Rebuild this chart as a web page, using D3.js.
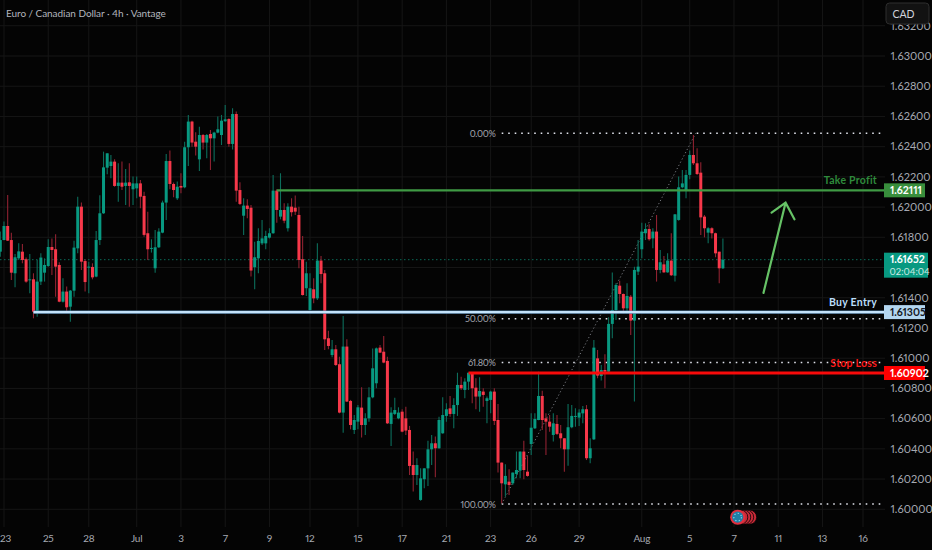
<!DOCTYPE html>
<html><head><meta charset="utf-8">
<script src="https://cdn.jsdelivr.net/npm/d3@7/dist/d3.min.js"></script>
<style>html,body{margin:0;padding:0;background:#050505;overflow:hidden}svg{display:block}text{font-variant-numeric:proportional-nums;font-feature-settings:"pnum" 1}</style>
</head><body><svg id="c" width="932" height="550"></svg>
<script>
const opens=[1.61705,1.61782,1.61875,1.61782,1.61562,1.61661,1.61705,1.61655,1.61518,1.61522,
1.61308,1.61507,1.61566,1.61610,1.61736,1.61721,1.61617,1.61374,1.61441,1.61341,
1.61447,1.61727,1.62003,1.61643,1.61599,1.61604,1.61540,1.61782,1.61959,1.62261,
1.62272,1.62301,1.62140,1.62162,1.62140,1.62164,1.62118,1.62124,1.62157,1.62074,
1.61827,1.61725,1.61595,1.61734,1.61831,1.62030,1.62305,1.62153,1.62058,1.62140,
1.62131,1.62396,1.62566,1.62433,1.62316,1.62477,1.62427,1.62484,1.62455,1.62493,
1.62477,1.62568,1.62583,1.62418,1.62616,1.62113,1.61943,1.62010,1.61996,1.61602,
1.61661,1.61760,1.61760,1.61798,1.61827,1.62109,1.61937,1.61981,1.61860,1.62003,
1.61996,1.61948,1.61655,1.61463,1.61319,1.61456,1.61396,1.61646,1.61562,1.61132,
1.61021,1.61059,1.60960,1.60640,1.61077,1.60717,1.60525,1.60580,1.60673,1.60558,
1.60602,1.60741,1.60834,1.61070,1.61043,1.60982,1.60565,1.60631,1.60602,1.60646,
1.60602,1.60525,1.60293,1.60227,1.60062,1.60199,1.60271,1.60397,1.60437,1.60404,
1.60503,1.60618,1.60668,1.60631,1.60690,1.60823,1.60790,1.60845,1.60900,1.60805,
1.60746,1.60779,1.60717,1.60724,1.60779,1.60591,1.60309,1.60165,1.60183,1.60172,
1.60234,1.60256,1.60382,1.60249,1.60432,1.60536,1.60591,1.60750,1.60602,1.60580,
1.60492,1.60565,1.60503,1.60470,1.60397,1.60543,1.60613,1.60607,1.60635,1.60662,
1.60338,1.60463,1.60999,1.60882,1.60922,1.60911,1.61227,1.61319,1.61480,1.61425,
1.61330,1.61407,1.61249,1.61573,1.61721,1.61827,1.61855,1.61793,1.61838,1.61584,
1.61621,1.61568,1.61646,1.61546,1.61915,1.62131,1.62113,1.62213,1.62345,1.62290,
1.62228,1.61937,1.61831,1.61860,1.61827,1.61705,1.61595];
const highs=[1.61838,1.61904,1.62080,1.61831,1.61690,1.61760,1.61756,1.61666,1.61690,1.61562,
1.61650,1.61694,1.61661,1.61787,1.61793,1.61820,1.61635,1.61529,1.61474,1.61452,
1.61778,1.62069,1.62030,1.61655,1.61639,1.61628,1.61842,1.62078,1.62367,1.62356,
1.62345,1.62316,1.62290,1.62301,1.62252,1.62290,1.62202,1.62202,1.62180,1.62102,
1.61970,1.61787,1.61849,1.61860,1.62043,1.62352,1.62374,1.62162,1.62169,1.62224,
1.62433,1.62610,1.62572,1.62495,1.62532,1.62484,1.62484,1.62510,1.62499,1.62599,
1.62610,1.62676,1.62588,1.62654,1.62632,1.62164,1.62058,1.62052,1.62014,1.61771,
1.61860,1.61915,1.61844,1.61860,1.62213,1.62118,1.62224,1.62025,1.62025,1.62058,
1.62076,1.62003,1.61809,1.61639,1.61562,1.61529,1.61760,1.61677,1.61584,1.61182,
1.61121,1.61088,1.61010,1.61279,1.61125,1.60724,1.60624,1.60690,1.60807,1.60635,
1.60807,1.61065,1.61070,1.61088,1.61147,1.61010,1.60675,1.60739,1.60675,1.60662,
1.60679,1.60552,1.60382,1.60338,1.60271,1.60271,1.60454,1.60492,1.60481,1.60613,
1.60741,1.60702,1.60750,1.60735,1.60904,1.60878,1.60867,1.60904,1.60900,1.60867,
1.60874,1.60801,1.60746,1.60785,1.60801,1.60697,1.60309,1.60298,1.60265,1.60243,
1.60382,1.60382,1.60454,1.60353,1.60635,1.60635,1.60911,1.60785,1.60635,1.60624,
1.60635,1.60624,1.60558,1.60470,1.60697,1.60690,1.60668,1.60662,1.60684,1.60690,
1.60470,1.61121,1.61054,1.60955,1.61026,1.61271,1.61568,1.61496,1.61513,1.61429,
1.61496,1.61418,1.61606,1.61782,1.61897,1.61893,1.61886,1.61860,1.61948,1.61716,
1.61677,1.61694,1.61827,1.61955,1.62202,1.62246,1.62246,1.62374,1.62477,1.62389,
1.62296,1.61948,1.61866,1.61866,1.61831,1.61705,1.61793];
const lows=[1.61672,1.61780,1.61775,1.61518,1.61469,1.61650,1.61628,1.61500,1.61430,1.61264,
1.61275,1.61485,1.61507,1.61606,1.61551,1.61407,1.61370,1.61368,1.61308,1.61242,
1.61407,1.61694,1.61584,1.61441,1.61430,1.61522,1.61535,1.61749,1.61955,1.62217,
1.62191,1.62135,1.62036,1.62113,1.62014,1.62003,1.62014,1.62058,1.61992,1.61804,
1.61650,1.61699,1.61566,1.61730,1.61827,1.61915,1.62118,1.62065,1.62047,1.62091,
1.62124,1.62272,1.62400,1.62341,1.62239,1.62382,1.62323,1.62246,1.62301,1.62488,
1.62411,1.62565,1.62400,1.62382,1.62036,1.62014,1.61816,1.61926,1.61540,1.61456,
1.61562,1.61749,1.61721,1.61793,1.61823,1.61897,1.61919,1.61893,1.61838,1.61937,
1.61948,1.61595,1.61415,1.61412,1.61315,1.61363,1.61385,1.61496,1.61054,1.61059,
1.61006,1.60949,1.60635,1.60507,1.60710,1.60529,1.60499,1.60529,1.60476,1.60492,
1.60580,1.60735,1.60801,1.61035,1.60966,1.60565,1.60419,1.60624,1.60596,1.60510,
1.60492,1.60227,1.60117,1.60161,1.60057,1.60139,1.60154,1.60293,1.60212,1.60400,
1.60500,1.60580,1.60613,1.60536,1.60618,1.60790,1.60735,1.60790,1.60702,1.60662,
1.60646,1.60679,1.60569,1.60635,1.60558,1.60243,1.60040,1.60084,1.60095,1.60161,
1.60205,1.60205,1.60199,1.60216,1.60360,1.60532,1.60589,1.60525,1.60360,1.60514,
1.60448,1.60492,1.60404,1.60249,1.60289,1.60536,1.60547,1.60552,1.60569,1.60326,
1.60304,1.60459,1.60867,1.60852,1.60801,1.60908,1.61132,1.61253,1.61363,1.61297,
1.61297,1.61154,1.60713,1.61551,1.61661,1.61782,1.61778,1.61727,1.61507,1.61562,
1.61566,1.61566,1.61544,1.61507,1.61910,1.62124,1.62058,1.62184,1.62279,1.62213,
1.61816,1.61800,1.61760,1.61793,1.61668,1.61496,1.61590];
const closes=[1.61782,1.61875,1.61778,1.61566,1.61668,1.61707,1.61650,1.61507,1.61522,1.61308,
1.61507,1.61666,1.61617,1.61736,1.61716,1.61606,1.61374,1.61441,1.61337,1.61447,
1.61732,1.62003,1.61639,1.61504,1.61606,1.61535,1.61782,1.61959,1.62263,1.62356,
1.62301,1.62140,1.62162,1.62135,1.62162,1.62140,1.62157,1.62157,1.62069,1.61816,
1.61721,1.61730,1.61734,1.61838,1.62030,1.62305,1.62153,1.62113,1.62135,1.62129,
1.62396,1.62566,1.62427,1.62400,1.62477,1.62427,1.62477,1.62455,1.62493,1.62515,
1.62572,1.62581,1.62418,1.62616,1.62109,1.62021,1.62010,1.61988,1.61580,1.61668,
1.61776,1.61793,1.61809,1.61827,1.62109,1.61981,1.61981,1.61910,1.62003,1.61966,
1.61970,1.61650,1.61418,1.61562,1.61463,1.61396,1.61646,1.61557,1.61125,1.61081,
1.61059,1.60955,1.60640,1.61077,1.60713,1.60558,1.60591,1.60675,1.60558,1.60602,
1.60741,1.60933,1.61065,1.61037,1.60971,1.60569,1.60640,1.60657,1.60640,1.60514,
1.60521,1.60287,1.60227,1.60293,1.60205,1.60271,1.60397,1.60437,1.60404,1.60591,
1.60624,1.60662,1.60631,1.60690,1.60823,1.60801,1.60845,1.60904,1.60801,1.60746,
1.60783,1.60757,1.60735,1.60779,1.60585,1.60309,1.60172,1.60221,1.60161,1.60243,
1.60260,1.60382,1.60260,1.60221,1.60540,1.60598,1.60750,1.60591,1.60580,1.60547,
1.60569,1.60499,1.60470,1.60397,1.60543,1.60618,1.60618,1.60640,1.60662,1.60338,
1.60404,1.61070,1.60885,1.60922,1.60911,1.61227,1.61319,1.61485,1.61425,1.61330,
1.61412,1.61249,1.61584,1.61606,1.61838,1.61855,1.61787,1.61838,1.61584,1.61635,
1.61568,1.61646,1.61549,1.61952,1.62131,1.62157,1.62213,1.62345,1.62290,1.62219,
1.61932,1.61860,1.61860,1.61827,1.61694,1.61595,1.61652];

const priceTicks=[1.600,1.602,1.604,1.606,1.608,1.610,1.612,1.614,1.616,1.618,1.620,1.622,1.624,1.626,1.628,1.630,1.632];
const priceLabelTicks=[1.600,1.602,1.604,1.606,1.608,1.610,1.612,1.614,1.618,1.620,1.622,1.624,1.626,1.628,1.630,1.632];
const timeTickIdx=[1,13,24,37,49,61,73,84,97,109,121,133,144,157,174,187,199,211,223,234];
const timeTickLabels=["23","25","28","Jul","3","7","9","12","15","17","21","23","26","29","Aug","5","7","11","13","16"];
const levelNames=["Take Profit","Buy Entry","Stop Loss"];
const levelPrices=[1.62111,1.61305,1.60902];
const levelStartIdx=[75,9,127];
const lastPrice=1.61652;
const countdown="02:04:04";
const fibHigh=1.62488, fibLow=1.60035;
const fibRatios=[0,0.5,0.618,1];
const fibLabels=["0.00%","50.00%","61.80%","100.00%"];
const fibStartIdx=136, fibTrendEndIdx=188.6;
const arrowIdx=[207,213,209.2,215.4];
const arrowPrice=[1.61432,1.62029,1.61963,1.61919];
const eventIdx=[203.2,202.4,201.6,200.8];
const eventPrice=1.59948;
const title="Euro / Canadian Dollar · 4h · Vantage";

const W=932,H=550,axisX=885,plotBottom=527;
const FONT='Lato,sans-serif';
const svg=d3.select("#c").style("font-family",FONT);
const x=d3.scaleLinear().domain([0,234]).range([0.3,863]);
const y=d3.scaleLinear().domain([1.60,1.63]).range([509.3,56]);
svg.append("rect").attr("width",W).attr("height",H).attr("fill","#040404");

const grid=svg.append("g").attr("stroke","#161616").attr("stroke-width",1);
grid.selectAll(".gy").data(priceTicks).join("line").attr("x1",0).attr("x2",axisX).attr("y1",d=>y(d)).attr("y2",d=>y(d));
grid.selectAll(".gx").data(timeTickIdx).join("line").attr("x1",d=>x(d)).attr("x2",d=>x(d)).attr("y1",0).attr("y2",plotBottom);

// last price dotted
svg.append("line").attr("x1",0).attr("x2",axisX).attr("y1",y(lastPrice)).attr("y2",y(lastPrice))
 .attr("stroke","#0b6a58").attr("stroke-width",1).attr("stroke-dasharray","1.5 2.5");

// fib
const fibG=svg.append("g");
fibG.selectAll("line").data(fibRatios).join("line")
 .attr("x1",x(fibStartIdx)).attr("x2",axisX)
 .attr("y1",d=>y(fibHigh-(fibHigh-fibLow)*d)).attr("y2",d=>y(fibHigh-(fibHigh-fibLow)*d))
 .attr("stroke","#dfe2ea").attr("stroke-width",1.5).attr("stroke-dasharray","1.6 4.9");
fibG.selectAll("text").data(fibRatios).join("text")
 .attr("x",x(fibStartIdx)-6).attr("y",d=>y(fibHigh-(fibHigh-fibLow)*d)+3.5)
 .attr("text-anchor","end").attr("font-size",9.2).attr("letter-spacing",-0.3).attr("fill","#a3a6af").text((d,i)=>fibLabels[i]);
svg.append("line").attr("x1",x(fibStartIdx)).attr("y1",y(fibLow)).attr("x2",x(fibTrendEndIdx)).attr("y2",y(fibHigh))
 .attr("stroke","#77797f").attr("stroke-width",1).attr("stroke-dasharray","1.2 2.4");

// candles
const idx=d3.range(opens.length);
const up=i=>closes[i]>=opens[i];
const cg=svg.append("g");
cg.selectAll("line").data(idx).join("line")
 .attr("x1",i=>x(i)).attr("x2",i=>x(i)).attr("y1",i=>y(highs[i])).attr("y2",i=>y(lows[i]))
 .attr("stroke",i=>up(i)?"#0c6e5c":"#8f2231").attr("stroke-width",1.1);
cg.selectAll("rect").data(idx).join("rect")
 .attr("x",i=>x(i)-1.5).attr("width",3)
 .attr("y",i=>y(Math.max(opens[i],closes[i])))
 .attr("height",i=>Math.max(1,Math.abs(y(opens[i])-y(closes[i]))))
 .attr("fill",i=>up(i)?"#089981":"#f7384a");

// levels
const levelColors=["#3f9a44","#c4e3fb","#f80a0a"];
const levelWidths=[2.4,2.1,2.8];
const levelText=["#2f8a3c","#bbdefb","#ff1a1a"];
const lv=svg.append("g");
lv.append("line").attr("x1",x(levelStartIdx[1])).attr("x2",axisX).attr("y1",y(levelPrices[1])).attr("y2",y(levelPrices[1]))
 .attr("stroke","#4f7ea6").attr("stroke-width",3.2);
lv.selectAll(".lv").data(levelPrices).join("line").attr("class","lv")
 .attr("x1",(d,i)=>x(levelStartIdx[i])).attr("x2",axisX).attr("y1",d=>y(d)).attr("y2",d=>y(d))
 .attr("stroke",(d,i)=>levelColors[i]).attr("stroke-width",(d,i)=>levelWidths[i]);
lv.selectAll("text").data(levelPrices).join("text")
 .attr("x",877).attr("y",(d,i)=>y(d)-(i==2?6.5:6)).attr("text-anchor","end")
 .attr("font-size",10.5).attr("font-weight",700).attr("letter-spacing",0.25).attr("fill",(d,i)=>levelText[i]).text((d,i)=>levelNames[i]);

// arrow
const ap=i=>[x(arrowIdx[i]),y(arrowPrice[i])];
svg.append("path").attr("d",d3.line()([ap(0),ap(1)])+d3.line()([ap(2),ap(1),ap(3)]))
 .attr("fill","none").attr("stroke","#66c266").attr("stroke-width",2.2).attr("stroke-linecap","round");

// events
const ev=svg.append("g");
ev.selectAll("circle").data(eventIdx).join("circle").attr("cx",d=>x(d)).attr("cy",y(eventPrice)).attr("r",7.2)
 .attr("fill","#c92a38").attr("stroke","#040404").attr("stroke-width",0.8);
ev.append("circle").attr("cx",x(200)).attr("cy",y(eventPrice)).attr("r",7.5).attr("fill","#e2303f");
ev.append("circle").attr("cx",x(200)).attr("cy",y(eventPrice)).attr("r",5.6).attr("fill","#1e7fa6");
ev.append("circle").attr("cx",x(200)).attr("cy",y(eventPrice)).attr("r",3.8).attr("fill","none")
 .attr("stroke","#8fd0e8").attr("stroke-width",1.2).attr("stroke-dasharray","1.2 2.3");

// axis panel
svg.append("rect").attr("x",axisX).attr("y",0).attr("width",W-axisX).attr("height",H).attr("fill","#040404");
svg.append("g").selectAll("text").data(priceLabelTicks).join("text")
 .attr("x",890.5).attr("y",d=>y(d)+3.8).attr("font-size",11).attr("fill","#a6a9b2").text(d=>d.toFixed(5));
svg.append("g").selectAll("text").data(timeTickIdx).join("text")
 .attr("x",d=>Math.max(x(d),5.5)).attr("y",542).attr("text-anchor","middle").attr("font-size",10).attr("letter-spacing",-0.2).attr("fill","#a6a9b2")
 .text((d,i)=>timeTickLabels[i]);

// CAD button
svg.append("rect").attr("x",886).attr("y",3).attr("width",43).attr("height",21).attr("rx",3.5).attr("fill","#121212").attr("stroke","#2e2e2e");
svg.append("text").attr("x",892.5).attr("y",18).attr("font-size",10.5).attr("fill","#d1d4dc").text("CAD");

// price tags
const tagFill=["#388e3c","#b3d6f0","#ff0000"], tagTxt=["#fff","#131722","#fff"];
const tg=svg.append("g");
tg.selectAll("rect").data(levelPrices).join("rect")
 .attr("x",884).attr("width",41).attr("y",d=>y(d)-7).attr("height",14).attr("fill",(d,i)=>tagFill[i]);
tg.selectAll("text").data(levelPrices).join("text")
 .attr("x",890).attr("y",d=>y(d)+3.8).attr("font-size",10.5).attr("font-weight",700).attr("fill",(d,i)=>tagTxt[i]).text(d=>d.toFixed(5));
svg.append("rect").attr("x",884).attr("y",y(lastPrice)-7).attr("width",44).attr("height",25).attr("fill","#089981");
svg.append("text").attr("x",890).attr("y",y(lastPrice)+3.8).attr("font-size",10.5).attr("font-weight",700).attr("fill","#fff").text(lastPrice.toFixed(5));
svg.append("text").attr("x",889.5).attr("y",y(lastPrice)+15).attr("font-size",9.5).attr("fill","#cfe9e3").text(countdown);

// title
svg.append("text").attr("x",6).attr("y",17).attr("font-size",10).attr("letter-spacing",-0.05).attr("fill","#b2b5be").text(title);
</script></body></html>
